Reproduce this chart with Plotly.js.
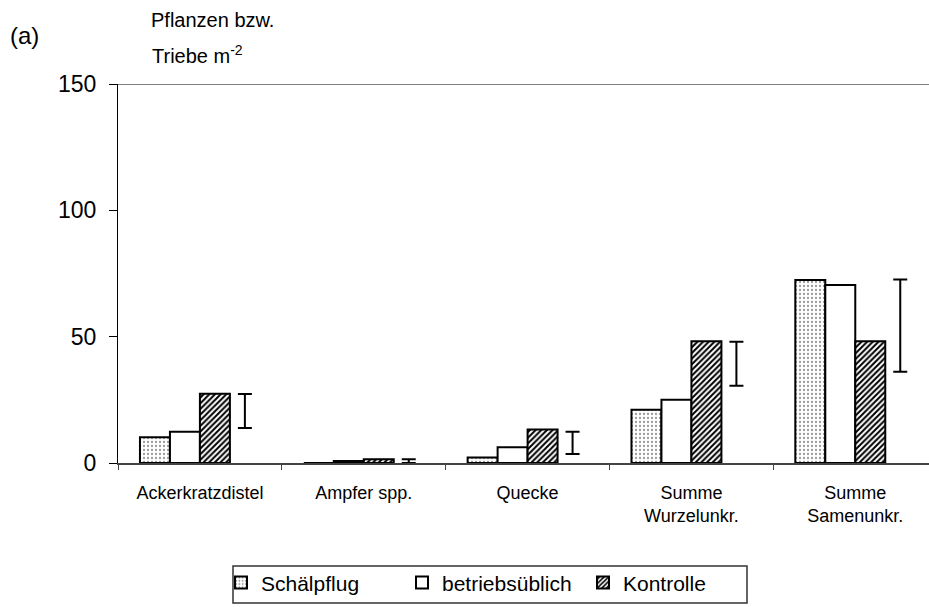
<!DOCTYPE html>
<html>
<head>
<meta charset="utf-8">
<script src="https://cdn.plot.ly/plotly-3.0.1.min.js"></script>
<style>html,body{margin:0;padding:0;background:#fff;}</style>
</head>
<body>
<div id="chart" style="width:929px;height:607px;"></div>
<script>
var categories = ["Ackerkratzdistel", "Ampfer spp.", "Quecke", "Summe<br>Wurzelunkr.", "Summe<br>Samenunkr."];
var schaelpflug = [10.2, 0, 2.2, 21.1, 72.4];
var betriebsueblich = [12.4, 0.8, 6.2, 25.0, 70.4];
var kontrolle = [27.4, 1.5, 13.3, 48.2, 48.2];
var errLower = [13.9, 0, 3.6, 30.6, 36.1];
var errUpper = [27.3, 1.5, 12.4, 48.0, 72.6];
var yTicks = [0, 50, 100, 150];

var errCenter = errLower.map(function(l, i){ return (l + errUpper[i]) / 2; });
var errHalf = errLower.map(function(l, i){ return (errUpper[i] - l) / 2; });

var FONT = "Liberation Sans, Arial, sans-serif";
var outline = {color: "black", width: 2};

var traces = [
  {type: "bar", name: "Schälpflug", x: categories, y: schaelpflug,
   marker: {color: "white", line: outline,
            pattern: {shape: ".", fgcolor: "#9a9a9a", bgcolor: "white", size: 4, solidity: 0.25}}},
  {type: "bar", name: "betriebsüblich", x: categories, y: betriebsueblich,
   marker: {color: "white", line: outline}},
  {type: "bar", name: "Kontrolle", x: categories, y: kontrolle,
   marker: {color: "white", line: outline,
            pattern: {shape: "/", fgcolor: "black", bgcolor: "white", size: 4, solidity: 0.5}}},
  {type: "bar", name: "LSD", x: categories, y: errCenter, showlegend: false,
   marker: {color: "rgba(0,0,0,0)", line: {width: 0}},
   error_y: {type: "data", array: errHalf, symmetric: true, color: "black", thickness: 2, width: 7},
   hoverinfo: "skip"}
];

var layout = {
  width: 929, height: 607,
  margin: {l: 118, r: 0, t: 84, b: 144},
  paper_bgcolor: "white", plot_bgcolor: "white",
  font: {family: FONT, color: "black", size: 18},
  barmode: "group", bargap: 0.268, bargroupgap: 0,
  showlegend: true,
  legend: {orientation: "h", x: 0.127, xanchor: "left", y: -0.262, yanchor: "top",
           borderwidth: 0, bgcolor: "rgba(0,0,0,0)", font: {family: FONT, size: 21, color: "black"},
           traceorder: "normal", itemwidth: 30, entrywidth: 136},
  xaxis: {type: "category", range: [-0.5, 4.45], showgrid: false, zeroline: false,
          showline: true, linecolor: "#444", linewidth: 2,
          ticks: "outside", tickson: "boundaries", ticklen: 5, tickcolor: "#444",
          ticklabelstandoff: 12,
          tickfont: {family: FONT, size: 18, color: "black"}, fixedrange: true},
  yaxis: {range: [0, 150], tickvals: yTicks, ticktext: yTicks.map(String),
          showgrid: false, zeroline: false, showline: true, linecolor: "black", linewidth: 1,
          ticks: "outside", ticklen: 8, tickcolor: "black", ticklabelstandoff: 8,
          tickfont: {family: FONT, size: 23, color: "black"}, fixedrange: true},
  shapes: [
    {type: "line", xref: "paper", yref: "y", x0: 0, x1: 1, y0: 150, y1: 150,
     line: {color: "black", width: 1}},
    {type: "rect", xref: "x domain", yref: "y domain", x0: (233 - 118) / 811, x1: (747 - 118) / 811,
     y0: (463 - 603) / 379, y1: (463 - 566) / 379, line: {color: "#333", width: 1.5}}
  ],
  annotations: [
    {text: "(a)", xref: "paper", yref: "paper", x: -0.1356, y: 1.127, xanchor: "left", yanchor: "middle",
     showarrow: false, font: {family: FONT, size: 24, color: "black"}},
    {text: "Pflanzen bzw.", xref: "paper", yref: "paper", x: 0.038, y: 1.169, xanchor: "left", yanchor: "middle",
     showarrow: false, font: {family: FONT, size: 20, color: "black"}},
    {text: "Triebe m<sup>-2</sup>", xref: "paper", yref: "paper", x: 0.04, y: 1.079, xanchor: "left", yanchor: "middle",
     showarrow: false, font: {family: FONT, size: 20, color: "black"}}
  ]
};

Plotly.newPlot("chart", traces, layout, {displayModeBar: false, staticPlot: true});
</script>
</body>
</html>
